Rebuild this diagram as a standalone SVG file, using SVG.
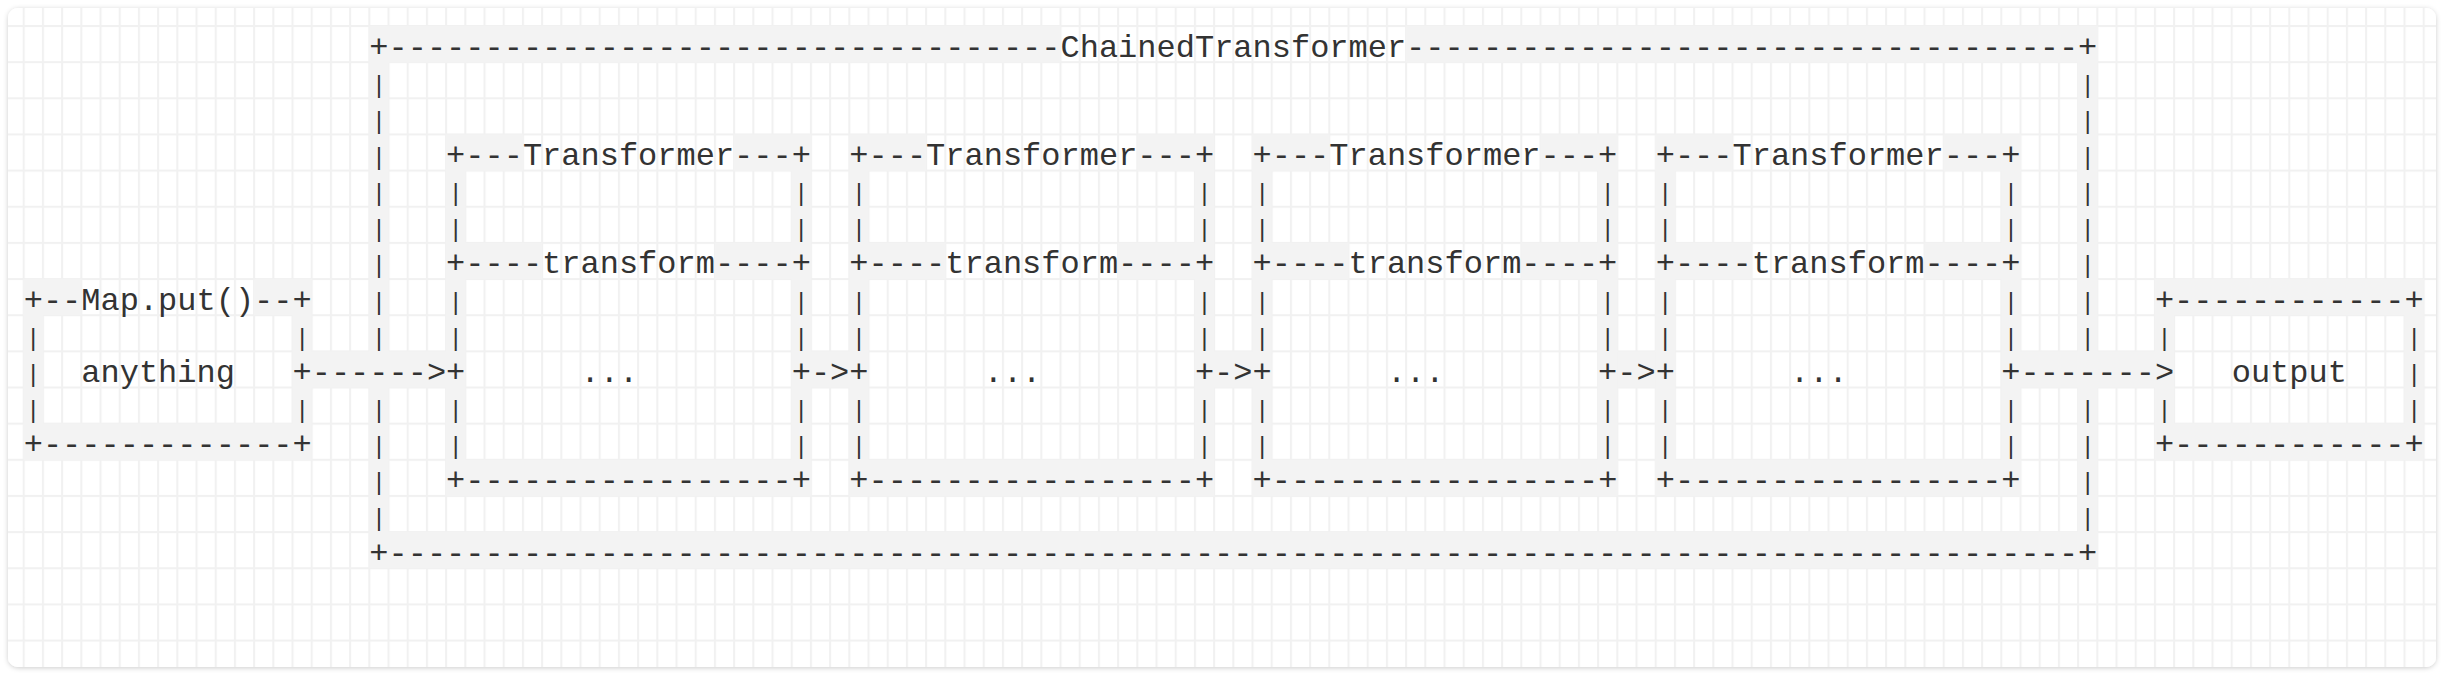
<svg xmlns="http://www.w3.org/2000/svg" width="2444" height="676" viewBox="0 0 2444 676" xml:space="preserve">
<defs>
<style>
.t{font-family:"Liberation Mono","Courier New",monospace;font-size:32px;fill:#333;white-space:pre}
.v{font-family:"Liberation Mono","Courier New",monospace;font-size:24px;fill:#333}
.hl{fill:#f3f3f3}
</style>
<pattern id="grid" x="22.7" y="25" width="19.2" height="36.15" patternUnits="userSpaceOnUse">
<rect width="19.2" height="36.15" fill="#fff"/>
<rect width="2" height="36.15" fill="#f1f1f1"/>
<rect width="19.2" height="2" fill="#f1f1f1"/>
</pattern>
<filter id="shadow" x="-2%" y="-5%" width="104%" height="110%">
<feDropShadow dx="0" dy="1" stdDeviation="2.5" flood-color="#000" flood-opacity="0.2"/>
</filter>
</defs>
<rect width="2444" height="676" fill="#fff"/>
<rect x="8" y="8" width="2428" height="659" rx="10" fill="#fff" filter="url(#shadow)"/>
<rect x="8" y="8" width="2428" height="659" rx="10" fill="url(#grid)"/>

<g id="chained-transformer">
<g class="hl">
<rect x="369.3" y="26" width="691.2" height="36.15"/>
<rect x="1406.1" y="26" width="691.2" height="36.15"/>
<rect x="369.3" y="532.1" width="1728" height="36.15"/>
<rect x="369.3" y="26" width="19.2" height="542.25"/>
<rect x="2078.1" y="26" width="19.2" height="542.25"/>
</g>
<text class="t" y="56.5"><tspan x="369.3" textLength="691.2" lengthAdjust="spacing">+-----------------------------------</tspan><tspan x="1060.5">ChainedTransformer</tspan><tspan x="1406.1" textLength="691.2" lengthAdjust="spacing">-----------------------------------+</tspan></text>
<text class="t" y="562.6" x="369.3" textLength="1728" lengthAdjust="spacing">+----------------------------------------------------------------------------------------+</text>
<g transform="translate(2.4,0)">
<text class="v"><tspan x="369.3" y="92.65">|</tspan><tspan x="369.3" y="128.8">|</tspan><tspan x="369.3" y="164.95">|</tspan><tspan x="369.3" y="201.1">|</tspan><tspan x="369.3" y="237.25">|</tspan><tspan x="369.3" y="273.4">|</tspan><tspan x="369.3" y="309.55">|</tspan><tspan x="369.3" y="345.7">|</tspan><tspan x="369.3" y="418">|</tspan><tspan x="369.3" y="454.15">|</tspan><tspan x="369.3" y="490.3">|</tspan><tspan x="369.3" y="526.45">|</tspan></text>
<text class="v"><tspan x="2078.1" y="92.65">|</tspan><tspan x="2078.1" y="128.8">|</tspan><tspan x="2078.1" y="164.95">|</tspan><tspan x="2078.1" y="201.1">|</tspan><tspan x="2078.1" y="237.25">|</tspan><tspan x="2078.1" y="273.4">|</tspan><tspan x="2078.1" y="309.55">|</tspan><tspan x="2078.1" y="345.7">|</tspan><tspan x="2078.1" y="418">|</tspan><tspan x="2078.1" y="454.15">|</tspan><tspan x="2078.1" y="490.3">|</tspan><tspan x="2078.1" y="526.45">|</tspan></text>
</g>
</g>

<g id="map-put" transform="translate(23.7,0)">
<g class="hl">
<rect x="0" y="279.05" width="19.2" height="180.75"/>
<rect x="268.8" y="279.05" width="19.2" height="180.75"/>
<rect x="0" y="279.05" width="57.6" height="36.15"/>
<rect x="230.4" y="279.05" width="57.6" height="36.15"/>
<rect x="0" y="423.65" width="288" height="36.15"/>
</g>
<text class="t" y="309.55"><tspan x="0">+--</tspan><tspan x="57.6">Map.put()</tspan><tspan x="230.4">--+</tspan></text>
<text class="v" transform="translate(2.4,0)"><tspan x="0" y="345.7">|</tspan><tspan x="268.8" y="345.7">|</tspan><tspan x="0" y="381.85">|</tspan><tspan x="0" y="418">|</tspan><tspan x="268.8" y="418">|</tspan></text>
<text class="t" y="381.85"><tspan x="57.6">anything</tspan><tspan x="268.8">+</tspan></text>
<text class="t" x="0" y="454.15">+-------------+</text>
</g>

<g id="transformer-1" transform="translate(446.1,0)">
<g class="hl">
<rect x="0" y="134.45" width="19.2" height="361.5"/>
<rect x="345.6" y="134.45" width="19.2" height="361.5"/>
<rect x="0" y="134.45" width="76.8" height="36.15"/>
<rect x="288" y="134.45" width="76.8" height="36.15"/>
<rect x="0" y="242.9" width="96" height="36.15"/>
<rect x="268.8" y="242.9" width="96" height="36.15"/>
<rect x="0" y="459.8" width="364.8" height="36.15"/>
</g>
<text class="t" y="164.95"><tspan x="0">+---</tspan><tspan x="76.8">Transformer</tspan><tspan x="288">---+</tspan></text>
<text class="v" transform="translate(2.4,0)"><tspan x="0" y="201.1">|</tspan><tspan x="345.6" y="201.1">|</tspan><tspan x="0" y="237.25">|</tspan><tspan x="345.6" y="237.25">|</tspan><tspan x="0" y="309.55">|</tspan><tspan x="345.6" y="309.55">|</tspan><tspan x="0" y="345.7">|</tspan><tspan x="345.6" y="345.7">|</tspan><tspan x="0" y="418">|</tspan><tspan x="345.6" y="418">|</tspan><tspan x="0" y="454.15">|</tspan><tspan x="345.6" y="454.15">|</tspan></text>
<text class="t" y="273.4"><tspan x="0">+----</tspan><tspan x="96">transform</tspan><tspan x="268.8">----+</tspan></text>
<text class="t" y="381.85"><tspan x="0">+</tspan><tspan x="134.4">...</tspan><tspan x="345.6">+</tspan></text>
<text class="t" x="0" y="490.3">+-----------------+</text>
</g>

<g id="transformer-2" transform="translate(849.3,0)">
<g class="hl">
<rect x="0" y="134.45" width="19.2" height="361.5"/>
<rect x="345.6" y="134.45" width="19.2" height="361.5"/>
<rect x="0" y="134.45" width="76.8" height="36.15"/>
<rect x="288" y="134.45" width="76.8" height="36.15"/>
<rect x="0" y="242.9" width="96" height="36.15"/>
<rect x="268.8" y="242.9" width="96" height="36.15"/>
<rect x="0" y="459.8" width="364.8" height="36.15"/>
</g>
<text class="t" y="164.95"><tspan x="0">+---</tspan><tspan x="76.8">Transformer</tspan><tspan x="288">---+</tspan></text>
<text class="v" transform="translate(2.4,0)"><tspan x="0" y="201.1">|</tspan><tspan x="345.6" y="201.1">|</tspan><tspan x="0" y="237.25">|</tspan><tspan x="345.6" y="237.25">|</tspan><tspan x="0" y="309.55">|</tspan><tspan x="345.6" y="309.55">|</tspan><tspan x="0" y="345.7">|</tspan><tspan x="345.6" y="345.7">|</tspan><tspan x="0" y="418">|</tspan><tspan x="345.6" y="418">|</tspan><tspan x="0" y="454.15">|</tspan><tspan x="345.6" y="454.15">|</tspan></text>
<text class="t" y="273.4"><tspan x="0">+----</tspan><tspan x="96">transform</tspan><tspan x="268.8">----+</tspan></text>
<text class="t" y="381.85"><tspan x="0">+</tspan><tspan x="134.4">...</tspan><tspan x="345.6">+</tspan></text>
<text class="t" x="0" y="490.3">+-----------------+</text>
</g>

<g id="transformer-3" transform="translate(1252.5,0)">
<g class="hl">
<rect x="0" y="134.45" width="19.2" height="361.5"/>
<rect x="345.6" y="134.45" width="19.2" height="361.5"/>
<rect x="0" y="134.45" width="76.8" height="36.15"/>
<rect x="288" y="134.45" width="76.8" height="36.15"/>
<rect x="0" y="242.9" width="96" height="36.15"/>
<rect x="268.8" y="242.9" width="96" height="36.15"/>
<rect x="0" y="459.8" width="364.8" height="36.15"/>
</g>
<text class="t" y="164.95"><tspan x="0">+---</tspan><tspan x="76.8">Transformer</tspan><tspan x="288">---+</tspan></text>
<text class="v" transform="translate(2.4,0)"><tspan x="0" y="201.1">|</tspan><tspan x="345.6" y="201.1">|</tspan><tspan x="0" y="237.25">|</tspan><tspan x="345.6" y="237.25">|</tspan><tspan x="0" y="309.55">|</tspan><tspan x="345.6" y="309.55">|</tspan><tspan x="0" y="345.7">|</tspan><tspan x="345.6" y="345.7">|</tspan><tspan x="0" y="418">|</tspan><tspan x="345.6" y="418">|</tspan><tspan x="0" y="454.15">|</tspan><tspan x="345.6" y="454.15">|</tspan></text>
<text class="t" y="273.4"><tspan x="0">+----</tspan><tspan x="96">transform</tspan><tspan x="268.8">----+</tspan></text>
<text class="t" y="381.85"><tspan x="0">+</tspan><tspan x="134.4">...</tspan><tspan x="345.6">+</tspan></text>
<text class="t" x="0" y="490.3">+-----------------+</text>
</g>

<g id="transformer-4" transform="translate(1655.7,0)">
<g class="hl">
<rect x="0" y="134.45" width="19.2" height="361.5"/>
<rect x="345.6" y="134.45" width="19.2" height="361.5"/>
<rect x="0" y="134.45" width="76.8" height="36.15"/>
<rect x="288" y="134.45" width="76.8" height="36.15"/>
<rect x="0" y="242.9" width="96" height="36.15"/>
<rect x="268.8" y="242.9" width="96" height="36.15"/>
<rect x="0" y="459.8" width="364.8" height="36.15"/>
</g>
<text class="t" y="164.95"><tspan x="0">+---</tspan><tspan x="76.8">Transformer</tspan><tspan x="288">---+</tspan></text>
<text class="v" transform="translate(2.4,0)"><tspan x="0" y="201.1">|</tspan><tspan x="345.6" y="201.1">|</tspan><tspan x="0" y="237.25">|</tspan><tspan x="345.6" y="237.25">|</tspan><tspan x="0" y="309.55">|</tspan><tspan x="345.6" y="309.55">|</tspan><tspan x="0" y="345.7">|</tspan><tspan x="345.6" y="345.7">|</tspan><tspan x="0" y="418">|</tspan><tspan x="345.6" y="418">|</tspan><tspan x="0" y="454.15">|</tspan><tspan x="345.6" y="454.15">|</tspan></text>
<text class="t" y="273.4"><tspan x="0">+----</tspan><tspan x="96">transform</tspan><tspan x="268.8">----+</tspan></text>
<text class="t" y="381.85"><tspan x="0">+</tspan><tspan x="134.4">...</tspan><tspan x="345.6">+</tspan></text>
<text class="t" x="0" y="490.3">+-----------------+</text>
</g>

<g id="output" transform="translate(2154.9,0)">
<g class="hl">
<rect x="0" y="279.05" width="19.2" height="180.75"/>
<rect x="249.6" y="279.05" width="19.2" height="180.75"/>
<rect x="0" y="279.05" width="268.8" height="36.15"/>
<rect x="0" y="423.65" width="268.8" height="36.15"/>
</g>
<text class="t" x="0" y="309.55">+------------+</text>
<text class="v" transform="translate(2.4,0)"><tspan x="0" y="345.7">|</tspan><tspan x="249.6" y="345.7">|</tspan><tspan x="249.6" y="381.85">|</tspan><tspan x="0" y="418">|</tspan><tspan x="249.6" y="418">|</tspan></text>
<text class="t" x="76.8" y="381.85">output</text>
<text class="t" x="0" y="454.15">+------------+</text>
</g>

<g id="connectors">
<g class="hl">
<rect x="311.7" y="351.35" width="134.4" height="36.15"/>
<rect x="810.9" y="351.35" width="38.4" height="36.15"/>
<rect x="1214.1" y="351.35" width="38.4" height="36.15"/>
<rect x="1617.3" y="351.35" width="38.4" height="36.15"/>
<rect x="2020.5" y="351.35" width="134.4" height="36.15"/>
</g>
<text class="t" y="381.85"><tspan x="311.7">------&gt;</tspan><tspan x="810.9">-&gt;</tspan><tspan x="1214.1">-&gt;</tspan><tspan x="1617.3">-&gt;</tspan><tspan x="2020.5">-------&gt;</tspan></text>
</g>
</svg>
